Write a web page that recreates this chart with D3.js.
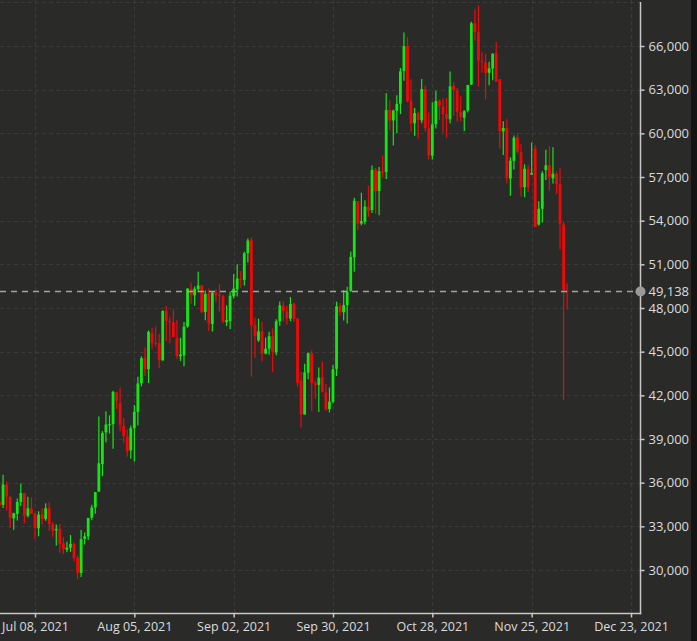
<!DOCTYPE html>
<html>
<head>
<meta charset="utf-8">
<script src="https://cdn.jsdelivr.net/npm/d3@7"></script>
<style>
  html, body { margin: 0; padding: 0; background: #2a2b29; overflow: hidden; }
  svg { display: block; }
</style>
</head>
<body>
<svg id="chart" width="697" height="641"></svg>
<script>
// ---- data (daily candles, first = Jun 28 2021) ----
const firstDay = "2021-06-28";
const open = [
34679,34475,35867,
35035,33549,33854,34666,35284,33723,34225,33889,32861,33813,33509,34259,33143,32723,32828,31841,31398,31534,31800,30838,29796,32138,32305,33593,34290,35384,37277,39456,39978,40016,42191,
41461,39908,39178,38214,39744,40865,42832,44574,43791,46280,45601,45597,44396,47810,47096,47020,45937,44686,44741,46723,49327,48870,49291,49564,47727,49002,46894,49072,48911,48834,47024,
47099,48807,49288,50009,49937,51769,52660,46827,45774,46397,44869,45206,46058,44960,47098,48158,47771,47273,48268,47261,43012,40677,43560,44894,42839,42721,43234,42200,41064,41551,
43816,48141,47703,48208,49175,51487,55339,53802,53929,54952,54734,57526,56038,57372,57345,61609,60887,61549,62044,64285,66002,62237,60694,61368,60893,63033,60352,58470,60625,62239,61850,
61320,60964,63255,62941,61460,61068,61554,63344,67549,66953,64978,64863,64159,64455,65521,63721,60140,60361,56896,58115,59730,58706,56304,57565,57165,58960,53736,54813,57474,57830,
56907,57217,56510,53744,49201];
const high = [
35219,36542,36074,
35035,33939,34909,35937,35284,35038,34997,33908,34042,34262,34592,34650,33306,33118,33159,32249,31935,32399,31885,31006,32752,32576,33581,34490,35364,40545,39542,40900,40626,42316,42231,
42541,40446,39648,39935,41341,43271,44689,45282,46456,46637,46735,46218,47846,48142,47357,47917,47160,45952,47044,49342,49758,49479,50482,49564,49202,49347,49112,49289,49627,48910,48189,
49111,50343,51000,50536,51868,52781,52854,47334,47261,47031,45969,46364,46598,47219,48451,48486,48157,48754,48373,47328,43596,44162,44942,45080,42996,43919,44313,42775,42545,44092,
48436,48336,49229,49457,51887,55568,55339,55922,55397,56401,57793,57627,57688,58478,62757,62274,61645,62614,64486,66931,66600,63715,61743,61505,63729,63293,61435,62128,62927,62330,62406,
62420,64243,63516,63123,62541,61590,63326,67673,68530,68789,65579,65460,64915,65495,66281,63721,60823,60976,58351,59845,60004,59266,57875,57803,59367,59183,55329,57394,58872,59113,
59042,57376,57601,53904,49700];
const low = [
33902,34252,34086,
32883,32770,33402,34396,33213,33599,33839,32133,32318,33125,33388,32697,32280,31682,31182,31100,31223,31232,30563,29360,29526,31745,32058,33424,33858,35383,36441,38772,39376,38323,41064,
39540,38737,37780,37642,37458,39932,42618,43331,42848,45199,45351,43861,44396,45737,45579,45998,44512,44364,43999,46650,48298,48157,49074,47654,47163,46405,46394,48428,47762,46950,46750,
46562,48652,48791,49370,49538,51130,43285,44561,45669,44344,44818,44791,43591,44752,46773,47079,46868,47097,47045,42598,39787,40679,43113,40936,41759,40848,42190,40931,40829,41444,
43320,47465,47145,46937,49099,50488,53357,53688,53735,54264,54519,54477,54370,56957,56868,60206,59164,60013,61322,63610,62117,60122,59826,59643,60691,60122,58208,58206,60329,60918,60075,
59695,60673,61184,60799,60844,60163,61432,63344,66382,63208,64180,62333,63303,63647,63548,58963,58515,56550,55705,57520,58618,55679,55632,55964,57146,53569,53669,53879,56792,56058,
56553,55837,52024,41700,47900];
const close = [
34475,35867,35040,
33572,33897,34668,35287,33746,34235,33855,32877,33798,33520,34240,33155,32702,32822,31780,31421,31533,31796,30817,29807,32110,32313,33581,34292,35350,37337,39406,39995,40008,42235,41626,
39974,39201,38153,39747,40869,42816,44555,43798,46365,45585,45593,44428,47793,47096,47047,46004,44695,44801,46717,49339,48906,49321,49546,47706,48960,46942,49058,48902,48830,47054,47166,
48847,49327,50025,49944,51753,52633,46811,46091,46391,44883,45201,46063,44963,47092,48177,47783,47267,48278,47260,42843,40693,43574,44896,42839,42716,43208,42235,41034,41564,43790,
48116,47711,48199,49112,51514,55361,53805,53967,54968,54659,57484,56041,57401,57321,61593,60887,61553,62026,64262,65993,62210,60692,61393,60931,63040,60363,58482,60622,62227,61888,61318,
61004,63226,62970,61452,61125,61527,63326,67566,66971,64995,64950,64155,64469,65466,63557,60161,60368,56942,58119,59697,58730,56289,57570,56281,57275,53569,54816,57248,57806,57006,
57229,56509,53786,49253,49138];
const lastPrice = 49138;
const yTicks = [30000,33000,36000,39000,42000,45000,48000,51000,54000,57000,60000,63000,66000];
const yGrid = [30000,33000,36000,39000,42000,45000,48000,51000,54000,57000,60000,63000,66000,69000];
const xTickDates = ["2021-07-08","2021-08-05","2021-09-02","2021-09-30","2021-10-28","2021-11-25","2021-12-23"];

// ---- build ----
const parse = d3.utcParse("%Y-%m-%d");
const start = parse(firstDay);
const candles = open.map((o, i) => ({
  date: d3.utcDay.offset(start, i), o, h: high[i], l: low[i], c: close[i]
}));
const xTicks = xTickDates.map(parse);

const plotRight = 640.5, plotBottom = 613.5;
const svg = d3.select("#chart");
const BG = "#2a2b29";
svg.append("rect").attr("width", 697).attr("height", 641).attr("fill", BG);

const x = d3.scaleUtc().domain([xTicks[0], xTicks[xTicks.length - 1]]).range([35, 631]);
const y = d3.scaleLinear().domain([30000, 66000]).range([570, 46]);

svg.append("defs").append("clipPath").attr("id", "clip")
  .append("rect").attr("x", 0).attr("y", 0).attr("width", plotRight).attr("height", plotBottom);

// grid
const grid = svg.append("g").attr("clip-path", "url(#clip)");
grid.selectAll("line.hg").data(yGrid).join("line")
  .attr("x1", 0).attr("x2", plotRight)
  .attr("y1", d => Math.round(y(d)) + 0.5).attr("y2", d => Math.round(y(d)) + 0.5)
  .attr("stroke", "#3b3c39").attr("stroke-width", 1).attr("stroke-dasharray", "4,3");
grid.selectAll("line.vg").data(xTicks).join("line")
  .attr("x1", d => Math.round(x(d)) + 0.5).attr("x2", d => Math.round(x(d)) + 0.5)
  .attr("y1", 0).attr("y2", plotBottom)
  .attr("stroke", "#3b3c39").attr("stroke-width", 1).attr("stroke-dasharray", "4,3");

// candles
const up = "#12e812", down = "#f00808";
const cg = svg.append("g").attr("clip-path", "url(#clip)");
const bw = 2.8;
cg.selectAll("line.wick").data(candles).join("line")
  .attr("x1", d => x(d.date)).attr("x2", d => x(d.date))
  .attr("y1", d => y(d.h)).attr("y2", d => y(d.l))
  .attr("stroke", d => d.c >= d.o ? up : down).attr("stroke-width", 1.2);
cg.selectAll("rect.body").data(candles).join("rect")
  .attr("x", d => x(d.date) - bw / 2)
  .attr("y", d => y(Math.max(d.o, d.c)))
  .attr("width", bw)
  .attr("height", d => Math.max(1, Math.abs(y(d.o) - y(d.c))))
  .attr("fill", d => d.c >= d.o ? up : down);

// last price line
svg.append("line")
  .attr("x1", 0).attr("x2", plotRight)
  .attr("y1", y(lastPrice)).attr("y2", y(lastPrice))
  .attr("stroke", "#a4a4a4").attr("stroke-width", 1.5).attr("stroke-dasharray", "6,5");

// axes
const fmtDate = d3.utcFormat("%b %d, %Y");
const fmtNum = d3.format(",");
const xAxis = d3.axisBottom(x).tickValues(xTicks).tickFormat(fmtDate).tickSize(4).tickPadding(5).tickSizeOuter(0);
const gx = svg.append("g").attr("transform", `translate(0,${plotBottom})`).call(xAxis);
gx.select(".domain").remove();
gx.selectAll(".tick line").attr("stroke", "#c8c8c8").attr("stroke-width", 1.5);
gx.selectAll(".tick text").attr("fill", "#dcdcdc").attr("font-family", "'Open Sans', sans-serif").attr("font-size", 12.5);

const yAxis = d3.axisRight(y).tickValues(yTicks.concat([lastPrice])).tickFormat(fmtNum).tickSize(4).tickPadding(4).tickSizeOuter(0);
const gy = svg.append("g").attr("transform", `translate(${plotRight},0)`).call(yAxis);
gy.select(".domain").remove();
gy.selectAll(".tick line").attr("stroke", "#c8c8c8").attr("stroke-width", 1.5)
  .filter(d => d === lastPrice).remove();
gy.selectAll(".tick text").attr("fill", "#dcdcdc").attr("font-family", "'Open Sans', sans-serif").attr("font-size", 13);

// frame lines
svg.append("line").attr("x1", plotRight).attr("x2", plotRight).attr("y1", 2).attr("y2", plotBottom + 0.75)
  .attr("stroke", "#c8c8c8").attr("stroke-width", 1.5);
svg.append("line").attr("x1", 0).attr("x2", plotRight + 0.75).attr("y1", plotBottom).attr("y2", plotBottom)
  .attr("stroke", "#c8c8c8").attr("stroke-width", 1.5);

// last price marker
svg.append("circle").attr("cx", plotRight).attr("cy", y(lastPrice)).attr("r", 5).attr("fill", "#9a9a9a");

// dark right edge
svg.append("rect").attr("x", 691).attr("y", 0).attr("width", 6).attr("height", 641).attr("fill", "#141414");
</script>
</body>
</html>
